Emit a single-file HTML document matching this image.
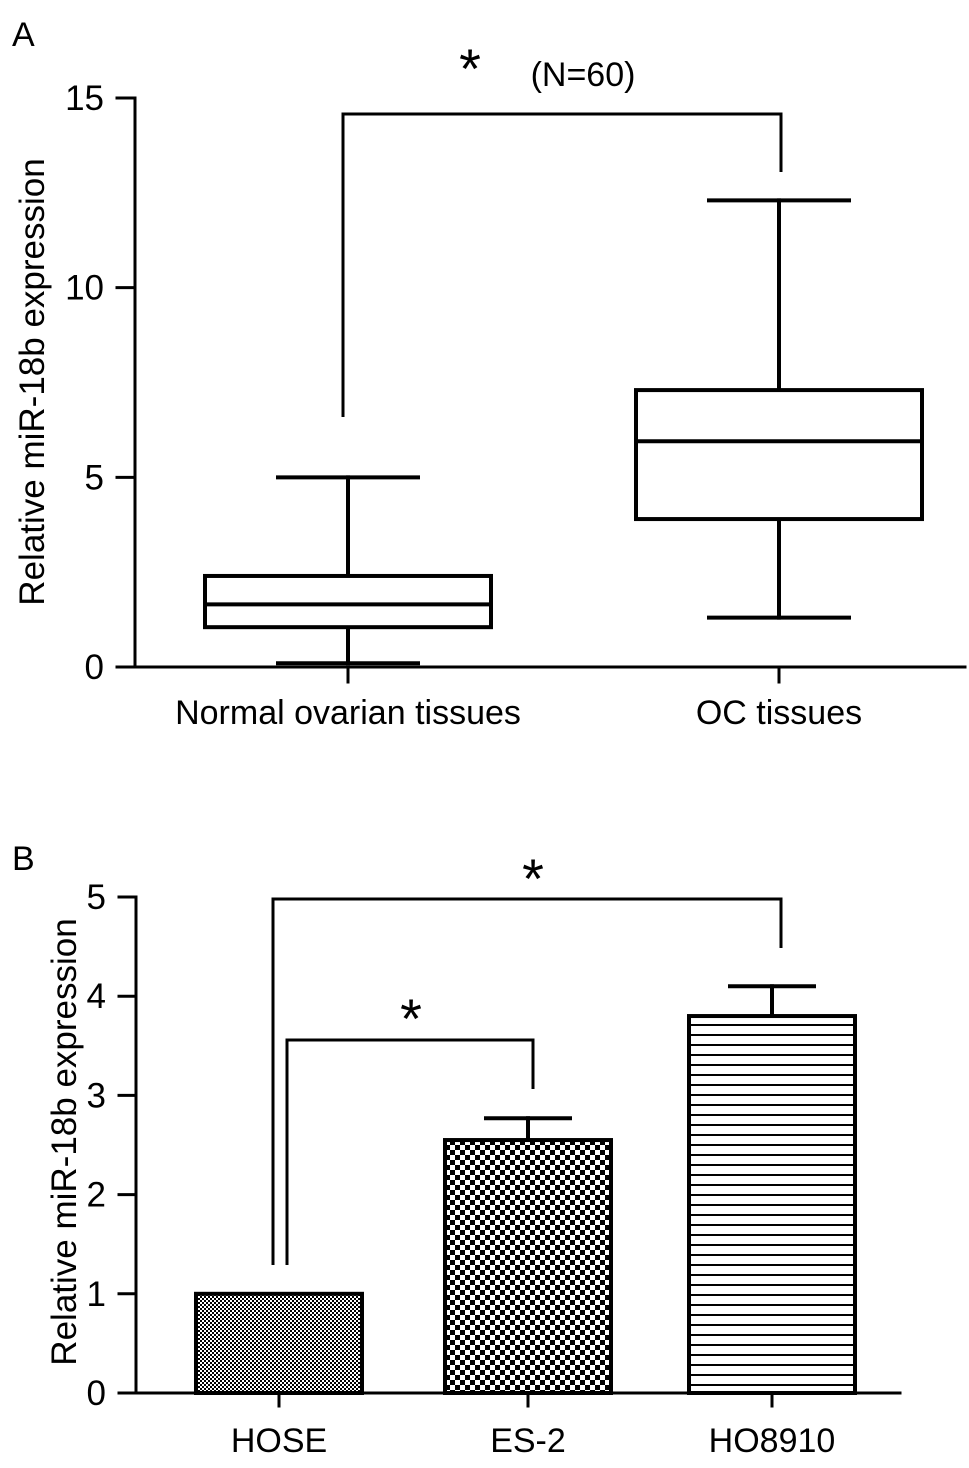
<!DOCTYPE html>
<html><head><meta charset="utf-8"><style>
body{margin:0;background:#fff}
svg text{font-family:"Liberation Sans",sans-serif;fill:#000}
</style></head><body>
<svg id="c" width="969" height="1463" xmlns="http://www.w3.org/2000/svg">
<defs>
<pattern id="pFine" width="4" height="4" patternUnits="userSpaceOnUse"><rect width="4" height="4" fill="#fff"/><rect width="2" height="2" fill="#000"/><rect x="2" y="2" width="2" height="2" fill="#000"/></pattern>
<pattern id="pCheck" width="10" height="10" patternUnits="userSpaceOnUse"><rect width="10" height="10" fill="#fff"/><rect width="5" height="5" fill="#000"/><rect x="5" y="5" width="5" height="5" fill="#000"/></pattern>
<pattern id="pHoriz" width="10" height="10" patternUnits="userSpaceOnUse"><rect width="10" height="10" fill="#fff"/><rect y="4" width="10" height="2" fill="#000"/></pattern>
</defs>
<g id="gA"></g><g id="gB"></g>
</svg>
<script>
const NS="http://www.w3.org/2000/svg";
const boxCats=["Normal ovarian tissues","OC tissues"];
const boxMin=[0.1,1.3];
const boxQ1=[1.05,3.9];
const boxMed=[1.65,5.95];
const boxQ3=[2.4,7.3];
const boxMax=[5.0,12.3];
const ticksA=[0,5,10,15];
const barCats=["HOSE","ES-2","HO8910"];
const barVals=[1.0,2.55,3.8];
const barErr=[0,0.22,0.3];
const ticksB=[0,1,2,3,4,5];
function mk(p,t,a){const e=document.createElementNS(NS,t);for(const k in a)e.setAttribute(k,a[k]);p.appendChild(e);return e;}
function line(p,x1,y1,x2,y2,w){return mk(p,"line",{x1,y1,x2,y2,stroke:"#000","stroke-width":w||4,"stroke-linecap":"square"});}
function txt(p,x,y,s,sz,anc,rot){const t=mk(p,"text",{x,y,"font-size":sz,"text-anchor":anc||"middle"});if(rot)t.setAttribute("transform",`rotate(-90 ${x} ${y})`);t.textContent=s;return t;}
// Panel A
const A=document.getElementById("gA");
const yA=v=>667-v*(569/15);
const cxA=[348,779];
txt(A,12,46,"A",34,"start");
let ax=line(A,135,98,135,667,3);
let xa=line(A,135,667,965,667,3);
ticksA.forEach(v=>{line(A,117,yA(v),135,yA(v),3);let t=txt(A,104,yA(v)+12,String(v),35,"end");});
cxA.forEach(x=>line(A,x,667,x,682,3));
let yl=txt(A,44,382,"Relative miR-18b expression",35,"middle",true);
boxCats.forEach((c,i)=>{const x=cxA[i],hw=143,cw=70;
 const g=mk(A,"g",{});
 line(g,x,yA(boxMin[i]),x,yA(boxMax[i]),4);
 line(g,x-cw,yA(boxMax[i]),x+cw,yA(boxMax[i]),4);
 line(g,x-cw,yA(boxMin[i]),x+cw,yA(boxMin[i]),4);
 mk(g,"rect",{x:x-hw,y:yA(boxQ3[i]),width:2*hw,height:yA(boxQ1[i])-yA(boxQ3[i]),fill:"#fff",stroke:"#000","stroke-width":4});
 line(g,x-hw,yA(boxMed[i]),x+hw,yA(boxMed[i]),4);
 let t=txt(A,x,724,c,34);});
const brA=mk(A,"polyline",{points:`343,417 343,114 781,114 781,172`,fill:"none",stroke:"#000","stroke-width":3});

txt(A,470,88,"*",56);txt(A,583,86,"(N=60)",34);
// Panel B
const B=document.getElementById("gB");
const yB=v=>1393-v*(496/5);
const cxB=[279,528,772];const fills=["url(#pFine)","url(#pCheck)","url(#pHoriz)"];
txt(B,12,870,"B",34,"start");
line(B,136,897,136,1393,3);line(B,136,1393,900,1393,3);
ticksB.forEach(v=>{line(B,119,yB(v),136,yB(v),3);let t=txt(B,106,yB(v)+12,String(v),35,"end");});
cxB.forEach(x=>line(B,x,1393,x,1406,3));
txt(B,76,1142,"Relative miR-18b expression",35,"middle",true);
barCats.forEach((c,i)=>{const x=cxB[i],hw=83;
 if(barErr[i]>0){line(B,x,yB(barVals[i]),x,yB(barVals[i]+barErr[i]),4);line(B,x-42,yB(barVals[i]+barErr[i]),x+42,yB(barVals[i]+barErr[i]),4);}
 const r=mk(B,"rect",{x:x-hw,y:yB(barVals[i]),width:2*hw,height:yB(0)-yB(barVals[i]),fill:fills[i],stroke:"#000","stroke-width":4});
 
 let t=txt(B,x,1452,c,34);});
mk(B,"polyline",{points:`273,1265 273,899 781,899 781,948`,fill:"none",stroke:"#000","stroke-width":3});
mk(B,"polyline",{points:`287,1265 287,1040 533,1040 533,1089`,fill:"none",stroke:"#000","stroke-width":3});
txt(B,533,898,"*",56);txt(B,411,1038,"*",56);
</script>
</body></html>
